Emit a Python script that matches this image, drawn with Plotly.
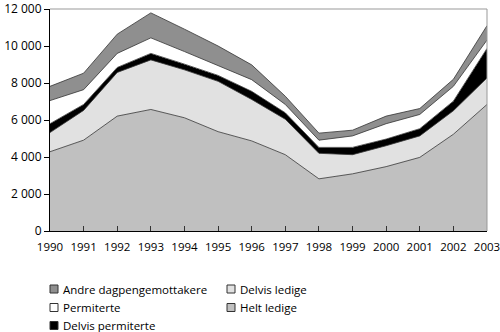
import plotly.graph_objects as go

years = list(range(1990, 2004))
helt_ledige = [4285, 4910, 6210, 6570, 6120, 5370, 4870, 4125, 2820, 3090, 3480, 3980, 5230, 6840]
delvis_ledige_cum = [5320, 6520, 8570, 9250, 8710, 8090, 7110, 6040, 4200, 4125, 4610, 5140, 6500, 8270]
delvis_perm_cum = [5800, 6840, 8840, 9600, 9020, 8410, 7550, 6390, 4520, 4520, 4970, 5530, 7020, 9870]
permiterte_cum = [7050, 7640, 9600, 10440, 9700, 8930, 8180, 6840, 4910, 5140, 5800, 6300, 7820, 10320]
andre_cum = [7820, 8530, 10640, 11790, 10910, 10000, 8980, 7285, 5290, 5450, 6210, 6620, 8200, 11100]

series = [
    ("Helt ledige", [h for h in helt_ledige], "#c0c0c0"),
    ("Delvis ledige", [b - a for a, b in zip(helt_ledige, delvis_ledige_cum)], "#e1e1e1"),
    ("Delvis permiterte", [b - a for a, b in zip(delvis_ledige_cum, delvis_perm_cum)], "#000000"),
    ("Permiterte", [b - a for a, b in zip(delvis_perm_cum, permiterte_cum)], "#ffffff"),
    ("Andre dagpengemottakere", [b - a for a, b in zip(permiterte_cum, andre_cum)], "#8f8f8f"),
]

FONT = "Open Sans"
W, H = 500, 332
L, R, T, B = 50, 13, 9, 101
PW, PH = W - L - R, H - T - B
bottom_px = H - B

fig = go.Figure()
for name, vals, col in series:
    fig.add_trace(go.Scatter(
        x=years, y=vals, name=name, stackgroup="one", mode="lines",
        line=dict(color="#333333", width=0.8), fillcolor=col, showlegend=False,
    ))

# manual legend (column-major, two columns)
legend_items = [
    ("Andre dagpengemottakere", "#8f8f8f", 0, 0),
    ("Permiterte", "#ffffff", 0, 1),
    ("Delvis permiterte", "#000000", 0, 2),
    ("Delvis ledige", "#e1e1e1", 1, 0),
    ("Helt ledige", "#c0c0c0", 1, 1),
]
col_x = [50, 227]
row_y = [289, 307.5, 325.5]
for text, col, c, r in legend_items:
    x0 = col_x[c]
    yc = row_y[r]
    fig.add_shape(type="rect", xref="paper", yref="paper",
                  x0=(x0 - L) / PW, x1=(x0 + 8 - L) / PW,
                  y0=(bottom_px - (yc + 4)) / PH, y1=(bottom_px - (yc - 4)) / PH,
                  fillcolor=col, line=dict(color="#333333", width=1))
    fig.add_annotation(xref="paper", yref="paper",
                       x=(x0 + 11 - L) / PW, y=(bottom_px - yc) / PH,
                       text=text, showarrow=False, xanchor="left", yanchor="middle",
                       font=dict(family=FONT, size=11.5, color="#000000"))

fig.update_layout(
    width=W, height=H,
    margin=dict(l=L, r=R, t=T, b=B, autoexpand=False),
    paper_bgcolor="white", plot_bgcolor="white",
    separators=", ",
    font=dict(family=FONT, size=12, color="#000000"),
    xaxis=dict(
        range=[1990, 2003], tickmode="array", tickvals=years,
        ticks="inside", ticklen=5, tickcolor="#333333", tickwidth=1,
        showline=True, linecolor="#000000", linewidth=1,
        showgrid=False, zeroline=False, mirror=False,
        tickfont=dict(family=FONT, size=11.5), ticklabelstandoff=5,
        ticklabeloverflow="allow", automargin=False,
    ),
    yaxis=dict(
        range=[0, 12000], tickvals=[0, 2000, 4000, 6000, 8000, 10000, 12000],
        tickformat=",d", ticks="outside", ticklen=5, tickcolor="#000000",
        showline=True, linecolor="#000000", linewidth=1,
        showgrid=False, zeroline=False,
        tickfont=dict(family=FONT, size=12),
        ticklabeloverflow="allow", automargin=False,
    ),
)
# gray top/right frame of plot area
fig.add_shape(type="line", xref="paper", yref="paper", x0=0, x1=1, y0=1, y1=1,
              line=dict(color="#999999", width=1))
fig.add_shape(type="line", xref="paper", yref="paper", x0=1, x1=1, y0=0, y1=1,
              line=dict(color="#999999", width=1))

fig.write_html("out.html")
